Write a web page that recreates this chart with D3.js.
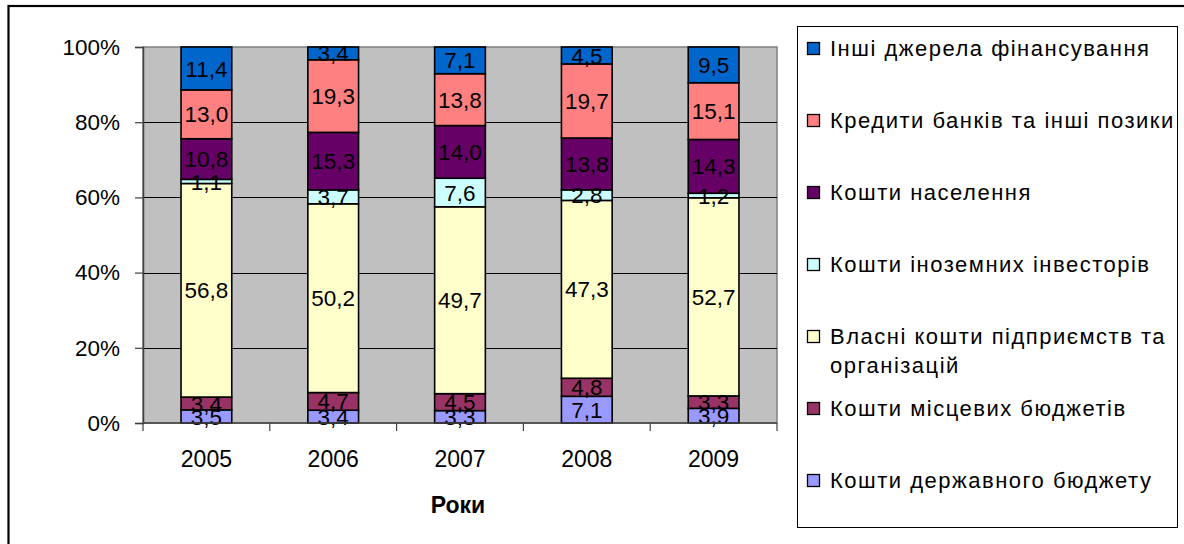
<!DOCTYPE html>
<html lang="uk">
<head>
    <meta charset="UTF-8">
    <title>Структура джерел фінансування</title>
    <script src="https://cdn.jsdelivr.net/npm/d3@7/dist/d3.min.js"></script>
    <style>
        body { margin: 0; background: #fff; }
        svg { display: block; font-family: "Liberation Sans", Arial, sans-serif; }
    </style>
</head>
<body>
<div id="chart"></div>
<script>
    // роки
    const years = ["2005", "2006", "2007", "2008", "2009"];

    // частки, % (знизу вгору)
    const stateBudget = [3.5, 3.4, 3.3, 7.1, 3.9];
    const localBudget = [3.4, 4.7, 4.5, 4.8, 3.3];
    const ownFunds = [56.8, 50.2, 49.7, 47.3, 52.7];
    const foreignInvestors = [1.1, 3.7, 7.6, 2.8, 1.2];
    const population = [10.8, 15.3, 14.0, 13.8, 14.3];
    const bankCredits = [13.0, 19.3, 13.8, 19.7, 15.1];
    const otherSources = [11.4, 3.4, 7.1, 4.5, 9.5];

    const seriesNames = [
        "Кошти державного бюджету",
        "Кошти місцевих бюджетів",
        "Власні кошти підприємств та організацій",
        "Кошти іноземних інвесторів",
        "Кошти населення",
        "Кредити банків та інші позики",
        "Інші джерела фінансування"
    ];
    const seriesValues = [stateBudget, localBudget, ownFunds, foreignInvestors, population, bankCredits, otherSources];
    const seriesColors = ["#9999FF", "#993366", "#FFFFCC", "#CCFFFF", "#660066", "#FF8080", "#0066CC"];

    const yTicks = [0, 20, 40, 60, 80, 100];

    const width = 1184, height = 544;
    const plot = {left: 143, right: 777, top: 47, bottom: 423};

    const rows = years.map((yr, i) => {
        const r = {year: yr};
        seriesNames.forEach((n, k) => r[n] = seriesValues[k][i]);
        return r;
    });
    const stacked = d3.stack().keys(seriesNames)(rows);

    const svg = d3.select("#chart").append("svg")
        .attr("width", width)
        .attr("height", height);

    // рамка діаграми
    svg.append("rect")
        .attr("x", 8.5).attr("y", 6)
        .attr("width", 1300).attr("height", 700)
        .attr("fill", "#fff")
        .attr("stroke", "#000")
        .attr("stroke-width", 2.2);

    const x = d3.scaleBand().domain(years).range([plot.left, plot.right])
        .paddingInner(0.6).paddingOuter(0.3);
    const xCat = d3.scaleBand().domain(years).range([plot.left, plot.right]);
    const y = d3.scaleLinear().domain([0, 100]).range([plot.bottom, plot.top]);

    // область побудови
    svg.append("rect")
        .attr("x", plot.left).attr("y", plot.top)
        .attr("width", plot.right - plot.left).attr("height", plot.bottom - plot.top)
        .attr("fill", "#C0C0C0")
        .attr("stroke", "#808080")
        .attr("stroke-width", 1.5);

    svg.append("g").selectAll("line")
        .data(yTicks.filter(d => d > 0 && d < 100))
        .join("line")
        .attr("x1", plot.left).attr("x2", plot.right)
        .attr("y1", d => Math.round(y(d)) + 0.5).attr("y2", d => Math.round(y(d)) + 0.5)
        .attr("stroke", "#000")
        .attr("stroke-width", 1);

    // стовпці
    const layer = svg.append("g").selectAll("g")
        .data(stacked)
        .join("g")
        .attr("fill", (d, i) => seriesColors[i]);

    layer.selectAll("rect")
        .data(d => d)
        .join("rect")
        .attr("x", d => x(d.data.year))
        .attr("y", d => y(d[1]))
        .attr("width", x.bandwidth())
        .attr("height", d => y(d[0]) - y(d[1]))
        .attr("stroke", "#000")
        .attr("stroke-width", 1.6);

    // підписи значень
    const fmt = v => d3.format(".1f")(v).replace(".", ",");
    const labels = svg.append("g")
        .attr("font-size", 22.5)
        .attr("text-anchor", "middle")
        .attr("fill", "#000");
    stacked.forEach(s => {
        labels.selectAll(null)
            .data(s)
            .join("text")
            .attr("x", d => x(d.data.year) + x.bandwidth() / 2)
            .attr("y", d => y((d[0] + d[1]) / 2))
            .attr("dy", "0.36em")
            .text(d => fmt(d[1] - d[0]));
    });

    // вісь Y
    const yAxis = svg.append("g")
        .attr("transform", `translate(${plot.left},0)`)
        .call(d3.axisLeft(y).tickValues(yTicks).tickFormat(d => d + "%").tickSize(8).tickPadding(15));
    yAxis.select(".domain").attr("stroke", "#404040").attr("stroke-width", 1.5);
    yAxis.selectAll(".tick line").attr("stroke", "#404040").attr("stroke-width", 1.2);
    yAxis.selectAll("text")
        .attr("font-size", 22.5)
        .attr("font-family", "Liberation Sans, Arial, sans-serif")
        .attr("fill", "#000");

    // вісь X
    const xAxis = svg.append("g");
    xAxis.append("line")
        .attr("x1", plot.left).attr("x2", plot.right)
        .attr("y1", plot.bottom).attr("y2", plot.bottom)
        .attr("stroke", "#404040").attr("stroke-width", 1.5);
    xAxis.selectAll(".xtick")
        .data(years.map(d => xCat(d)).concat([plot.right]))
        .join("line")
        .attr("x1", d => d).attr("x2", d => d)
        .attr("y1", plot.bottom).attr("y2", plot.bottom + 8)
        .attr("stroke", "#404040").attr("stroke-width", 1.2);
    xAxis.selectAll("text")
        .data(years)
        .join("text")
        .attr("x", d => xCat(d) + xCat.bandwidth() / 2)
        .attr("y", 467)
        .attr("text-anchor", "middle")
        .attr("font-size", 23)
        .text(d => d);

    svg.append("text")
        .attr("x", (plot.left + plot.right) / 2 - 2)
        .attr("y", 513)
        .attr("text-anchor", "middle")
        .attr("font-size", 23)
        .attr("font-weight", "bold")
        .text("Роки");

    // легенда
    const legend = svg.append("g");
    legend.append("rect")
        .attr("x", 797.5).attr("y", 26.5)
        .attr("width", 380).attr("height", 501)
        .attr("fill", "#fff")
        .attr("stroke", "#000")
        .attr("stroke-width", 1);

    const legendOrder = d3.range(seriesNames.length).reverse();
    const item = legend.selectAll(".item")
        .data(legendOrder)
        .join("g")
        .attr("transform", (k, i) => `translate(807,${48.5 + i * 72})`);

    item.append("rect")
        .attr("x", 0.5).attr("y", -6)
        .attr("width", 12).attr("height", 12)
        .attr("fill", k => seriesColors[k])
        .attr("stroke", "#000")
        .attr("stroke-width", 1.3);

    const lines = {
        2: ["Власні кошти підприємств та", "організацій"]
    };
    item.append("text")
        .attr("x", 23)
        .attr("font-size", 22)
        .attr("letter-spacing", 1.5)
        .selectAll("tspan")
        .data(k => lines[k] || [seriesNames[k]])
        .join("tspan")
        .attr("x", 23)
        .attr("y", (d, i) => i * 29)
        .attr("dy", "0.36em")
        .text(d => d);
</script>
</body>
</html>
